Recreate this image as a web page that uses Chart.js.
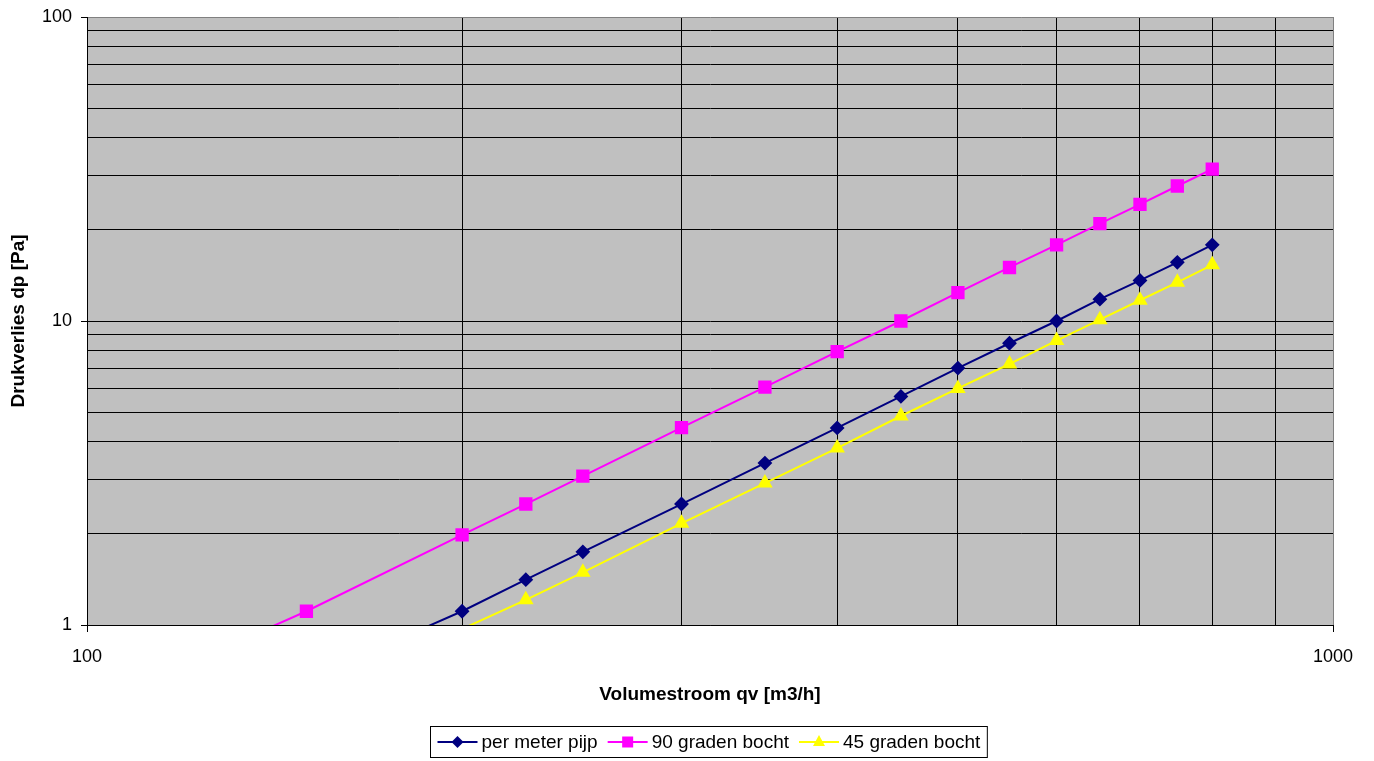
<!DOCTYPE html>
<html lang="nl">
<head>
    <meta charset="UTF-8">
    <title>Drukverlies</title>
    <script src="https://cdn.jsdelivr.net/npm/chart.js"></script>
    <style>
        body {
            margin: 0;
            padding: 0;
            background: #fff;
        }
        .chart-box {
            width: 1374px;
            height: 761px;
        }
    </style>
</head>
<body>
    <div class="chart-box">
        <canvas id="dpChart"></canvas>
    </div>

    <script>
        // debiet qv [m3/h]
        var qv = [100, 150, 200, 225, 250, 300, 350, 400, 450, 500, 550, 600, 650, 700, 750, 800];

        // drukverlies dp [Pa]
        var perMeterPijp = [0.3, 0.66, 1.11, 1.41, 1.74, 2.5, 3.41, 4.45, 5.65, 7.0, 8.45, 10.0, 11.8, 13.6, 15.6, 17.8];
        var graden90 = [0.53, 1.11, 1.98, 2.5, 3.09, 4.46, 6.06, 7.93, 10.0, 12.4, 15.0, 17.8, 20.9, 24.2, 27.8, 31.6];
        var graden45 = [0.25, 0.56, 0.97, 1.21, 1.49, 2.16, 2.93, 3.82, 4.87, 6.0, 7.22, 8.62, 10.1, 11.7, 13.4, 15.3];

        var seriesNames = ['per meter pijp', '90 graden bocht', '45 graden bocht'];

        // rasterlijnen en labels
        var xTicks = [100, 200, 300, 400, 500, 600, 700, 800, 900, 1000];
        var yTicks = [1, 2, 3, 4, 5, 6, 7, 8, 9, 10, 20, 30, 40, 50, 60, 70, 80, 90, 100];
        var xLabels = [100, 1000];
        var yLabels = [1, 10, 100];

        var font = "'Liberation Sans', Arial, sans-serif";

        function toPoints(values) {
            return qv.map(function(q, i) {
                return { x: q, y: values[i] };
            });
        }

        function isLabel(list, v) {
            return list.some(function(l) { return Math.abs(l - v) < 1e-6; });
        }

        // markers buiten het bereik (onder 1 Pa) niet tekenen
        function radius(r) {
            return function(c) {
                return c.raw && c.raw.y < 1 ? 0 : r;
            };
        }

        // grijze achtergrond van het plotgebied
        var plotBackground = {
            id: 'plotBackground',
            beforeDraw: function(chart) {
                var a = chart.chartArea;
                var ctx = chart.ctx;
                ctx.save();
                ctx.fillStyle = '#c0c0c0';
                ctx.fillRect(a.left, a.top, a.right - a.left, a.bottom - a.top);
                ctx.restore();
            }
        };

        function drawMarker(ctx, style, x, y, color) {
            ctx.fillStyle = color;
            ctx.beginPath();
            if (style === 'rectRot') {
                ctx.moveTo(x, y - 6);
                ctx.lineTo(x + 6, y);
                ctx.lineTo(x, y + 6);
                ctx.lineTo(x - 6, y);
            } else if (style === 'rect') {
                ctx.rect(x - 5.5, y - 5.5, 11, 11);
            } else {
                ctx.moveTo(x, y - 7);
                ctx.lineTo(x + 6, y + 4);
                ctx.lineTo(x - 6, y + 4);
            }
            ctx.closePath();
            ctx.fill();
        }

        // astitels en legenda met kader
        var titlesAndLegend = {
            id: 'titlesAndLegend',
            afterDraw: function(chart) {
                var ctx = chart.ctx;
                var a = chart.chartArea;
                ctx.save();
                ctx.fillStyle = '#000';
                ctx.font = 'bold 19px ' + font;
                ctx.textAlign = 'center';
                ctx.textBaseline = 'middle';
                ctx.fillText('Volumestroom qv [m3/h]', (a.left + a.right) / 2, 695);

                ctx.translate(19, (a.top + a.bottom) / 2);
                ctx.rotate(-Math.PI / 2);
                ctx.fillText('Drukverlies dp [Pa]', 0, 0);
                ctx.restore();

                ctx.save();
                ctx.font = '19px ' + font;
                ctx.textBaseline = 'middle';
                var sets = chart.data.datasets;
                var lineLen = 40, gapText = 4, gapItem = 10, pad = 7;
                var total = 0;
                sets.forEach(function(ds, i) {
                    total += lineLen + gapText + ctx.measureText(ds.label).width;
                    if (i < sets.length - 1) total += gapItem;
                });
                var boxW = total + pad * 2;
                var boxX = Math.round((a.left + a.right) / 2 - boxW / 2) - 1.5;
                var boxY = 726.5, boxH = 31;
                ctx.strokeStyle = '#000';
                ctx.lineWidth = 1;
                ctx.strokeRect(boxX, boxY, boxW, boxH);

                var cy = boxY + boxH / 2;
                var x = boxX + pad;
                sets.forEach(function(ds) {
                    ctx.strokeStyle = ds.borderColor;
                    ctx.lineWidth = 2;
                    ctx.beginPath();
                    ctx.moveTo(x, cy);
                    ctx.lineTo(x + lineLen, cy);
                    ctx.stroke();
                    drawMarker(ctx, ds.pointStyle, x + lineLen / 2, cy, ds.backgroundColor);
                    x += lineLen + gapText;
                    ctx.fillStyle = '#000';
                    ctx.textAlign = 'left';
                    ctx.fillText(ds.label, x, cy + 1);
                    x += ctx.measureText(ds.label).width + gapItem;
                });
                ctx.restore();
            }
        };

        function fixedTicks(list) {
            return function(scale) {
                scale.ticks = list.map(function(v) { return { value: v }; });
            };
        }

        function noEdgePadding(size, key) {
            return function(scale) {
                scale[key] = size;
                scale.paddingTop = 0;
                scale.paddingBottom = 0;
                scale.paddingLeft = 0;
                scale.paddingRight = 0;
            };
        }

        var dpChart = new Chart(document.getElementById('dpChart').getContext('2d'), {
            type: 'line',
            data: {
                datasets: [{
                    label: seriesNames[0],
                    data: toPoints(perMeterPijp),
                    borderColor: '#000080',
                    backgroundColor: '#000080',
                    pointStyle: 'rectRot',
                    pointRadius: radius(6),
                    borderWidth: 2
                }, {
                    label: seriesNames[1],
                    data: toPoints(graden90),
                    borderColor: '#ff00ff',
                    backgroundColor: '#ff00ff',
                    pointStyle: 'rect',
                    pointRadius: radius(8),
                    borderWidth: 2
                }, {
                    label: seriesNames[2],
                    data: toPoints(graden45),
                    borderColor: '#ffff00',
                    backgroundColor: '#ffff00',
                    pointStyle: 'triangle',
                    pointRadius: radius(7),
                    borderWidth: 2
                }]
            },
            options: {
                responsive: true,
                maintainAspectRatio: false,
                animation: false,
                layout: {
                    padding: { top: 17, right: 41, bottom: 0, left: 0 }
                },
                elements: {
                    point: { borderWidth: 0 },
                    line: { tension: 0 }
                },
                plugins: {
                    legend: { display: false },
                    tooltip: { enabled: false }
                },
                scales: {
                    x: {
                        type: 'logarithmic',
                        min: 100,
                        max: 1000,
                        afterBuildTicks: fixedTicks(xTicks),
                        afterFit: noEdgePadding(136, 'height'),
                        border: { color: '#000', width: 1 },
                        grid: {
                            color: function(c) { return c.tick && c.tick.value === 1000 ? '#808080' : '#000'; },
                            lineWidth: 1,
                            tickLength: 7,
                            tickColor: function(c) { return isLabel(xLabels, c.tick.value) ? '#000' : 'rgba(0,0,0,0)'; }
                        },
                        ticks: {
                            autoSkip: false,
                            maxRotation: 0,
                            padding: 14,
                            color: '#000',
                            font: { family: font, size: 18 },
                            callback: function(value) { return isLabel(xLabels, value) ? String(value) : ''; }
                        }
                    },
                    y: {
                        type: 'logarithmic',
                        min: 1,
                        max: 100,
                        afterBuildTicks: fixedTicks(yTicks),
                        afterFit: noEdgePadding(87, 'width'),
                        border: { color: '#000', width: 1 },
                        grid: {
                            color: function(c) { return c.tick && c.tick.value === 100 ? '#808080' : '#000'; },
                            lineWidth: 1,
                            tickLength: 6,
                            tickColor: function(c) { return isLabel(yLabels, c.tick.value) ? '#000' : 'rgba(0,0,0,0)'; }
                        },
                        ticks: {
                            autoSkip: false,
                            padding: 9,
                            color: '#000',
                            font: { family: font, size: 18 },
                            callback: function(value) { return isLabel(yLabels, value) ? String(value) : ''; }
                        }
                    }
                }
            },
            plugins: [plotBackground, titlesAndLegend]
        });
    </script>
</body>
</html>
